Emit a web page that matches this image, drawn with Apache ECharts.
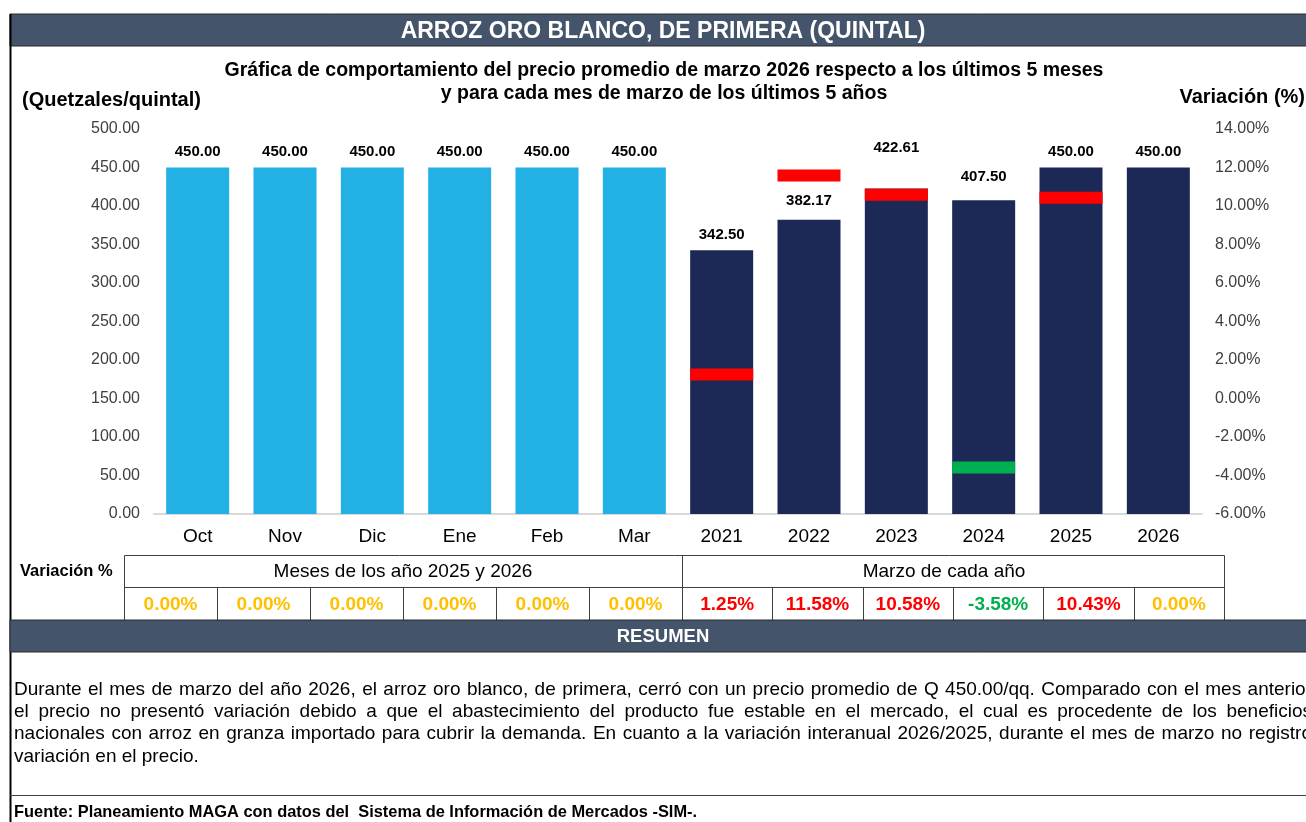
<!DOCTYPE html>
<html>
<head>
<meta charset="utf-8">
<script src="https://cdn.jsdelivr.net/npm/echarts@6/dist/echarts.min.js"></script>
<style>
html,body{margin:0;padding:0;background:#fff;}
#chart{width:1306px;height:822px;}
</style>
</head>
<body>
<div id="chart"></div>
<script>
// ---- data ----
const categories = ['Oct','Nov','Dic','Ene','Feb','Mar','2021','2022','2023','2024','2025','2026'];
const prices = [450.00,450.00,450.00,450.00,450.00,450.00,342.50,382.17,422.61,407.50,450.00,450.00];
const monthVariation = [0.00,0.00,0.00,0.00,0.00,0.00];
const yearVariation = [1.25,11.58,10.58,-3.58,10.43,0.00];
const leftAxisRange = {min:0, max:500, step:50};
const rightAxisRange = {min:-6, max:14, step:2};
const titleText = 'ARROZ ORO BLANCO, DE PRIMERA (QUINTAL)';
const subtitleLines = ['Gráfica de comportamiento del precio promedio de marzo 2026 respecto a los últimos 5 meses','y para cada mes de marzo de los últimos 5 años'];
const leftAxisName = '(Quetzales/quintal)';
const rightAxisName = 'Variación (%)';
const tableRowLabel = 'Variación %';
const groupMonths = 'Meses de los año 2025 y 2026';
const groupYears = 'Marzo de cada año';
const summaryTitle = 'RESUMEN';
const summaryLines = [
 'Durante el mes de marzo del año 2026, el arroz oro blanco, de primera, cerró con un precio promedio de Q 450.00/qq. Comparado con el mes anterior',
 'el precio no presentó variación debido a que el abastecimiento del producto fue estable en el mercado, el cual es procedente de los beneficios',
 'nacionales con arroz en granza importado para cubrir la demanda. En cuanto a la variación interanual 2026/2025, durante el mes de marzo no registró',
 'variación en el precio.'
];
const sourceText = 'Fuente: Planeamiento MAGA con datos del  Sistema de Información de Mercados -SIM-.';

// ---- styles ----
const FONT = '"Liberation Sans", Arial, sans-serif';
const LIGHT = '#23B0E4', NAVY = '#1C2855', RED = '#FF0000', GREEN = '#00B050', YELLOW = '#FFC000', BAR = '#44546A';
const nMonths = monthVariation.length;
const allVariation = monthVariation.concat(yearVariation);
const labelNudge = {7:-3, 8:-25, 9:-8};

function varColor(v){ return v > 0 ? RED : (v < 0 ? GREEN : YELLOW); }

const chart = echarts.init(document.getElementById('chart'), null, {renderer:'canvas'});

const G = [];
// title bar
G.push({type:'rect', shape:{x:10,y:14,width:1300,height:32}, style:{fill:BAR, stroke:'#2b2b2b', lineWidth:1}});
G.push({type:'text', x:663, y:31.5, style:{text:titleText, fill:'#fff', font:'bold 23px '+FONT, align:'center', verticalAlign:'middle'}});
// left border
G.push({type:'line', shape:{x1:10.5,y1:14,x2:10.5,y2:822}, style:{stroke:'#000', lineWidth:2}});
// subtitles
G.push({type:'text', x:664, y:71, style:{text:subtitleLines[0], fill:'#000', font:'bold 19.5px '+FONT, align:'center', verticalAlign:'middle'}});
G.push({type:'text', x:664, y:94, style:{text:subtitleLines[1], fill:'#000', font:'bold 19.5px '+FONT, align:'center', verticalAlign:'middle'}});
G.push({type:'text', x:22, y:100, style:{text:leftAxisName, fill:'#000', font:'bold 20px '+FONT, align:'left', verticalAlign:'middle'}});
G.push({type:'text', x:1305, y:97, style:{text:rightAxisName, fill:'#000', font:'bold 20px '+FONT, align:'right', verticalAlign:'middle'}});

// table
const tTop = 555, tMid = 587, tBot = 620, tLeft = 124, tDiv = 682, tRight = 1224;
const lineStyle = {stroke:'#404040', lineWidth:1};
G.push({type:'text', x:20, y:571, style:{text:tableRowLabel, fill:'#000', font:'bold 16.5px '+FONT, align:'left', verticalAlign:'middle'}});
G.push({type:'rect', shape:{x:tLeft+0.5,y:tTop+0.5,width:tRight-tLeft,height:tBot-tTop}, style:{fill:'none', stroke:'#404040', lineWidth:1}});
G.push({type:'line', shape:{x1:tLeft,y1:tMid+0.5,x2:tRight,y2:tMid+0.5}, style:lineStyle});
G.push({type:'line', shape:{x1:tDiv+0.5,y1:tTop,x2:tDiv+0.5,y2:tBot}, style:lineStyle});
G.push({type:'text', x:(tLeft+tDiv)/2, y:(tTop+tMid)/2+1, style:{text:groupMonths, fill:'#000', font:'19px '+FONT, align:'center', verticalAlign:'middle'}});
G.push({type:'text', x:944, y:(tTop+tMid)/2+1, style:{text:groupYears, fill:'#000', font:'19px '+FONT, align:'center', verticalAlign:'middle'}});
const mW = (tDiv - tLeft)/monthVariation.length, yW = (tRight - tDiv)/yearVariation.length;
monthVariation.forEach((v,i)=>{
  const x0 = tLeft + i*mW;
  if(i>0) G.push({type:'line', shape:{x1:Math.round(x0)+0.5,y1:tMid,x2:Math.round(x0)+0.5,y2:tBot}, style:lineStyle});
  G.push({type:'text', x:x0+mW/2, y:(tMid+tBot)/2+1, style:{text:v.toFixed(2)+'%', fill:varColor(v), font:'bold 19px '+FONT, align:'center', verticalAlign:'middle'}});
});
yearVariation.forEach((v,i)=>{
  const x0 = tDiv + i*yW;
  if(i>0) G.push({type:'line', shape:{x1:Math.round(x0)+0.5,y1:tMid,x2:Math.round(x0)+0.5,y2:tBot}, style:lineStyle});
  G.push({type:'text', x:x0+yW/2, y:(tMid+tBot)/2+1, style:{text:v.toFixed(2)+'%', fill:varColor(v), font:'bold 19px '+FONT, align:'center', verticalAlign:'middle'}});
});

// summary bar
G.push({type:'rect', shape:{x:10,y:620,width:1300,height:32}, style:{fill:BAR, stroke:'#2b2b2b', lineWidth:1}});
G.push({type:'text', x:663, y:636.5, style:{text:summaryTitle, fill:'#fff', font:'bold 18.5px '+FONT, align:'center', verticalAlign:'middle'}});

// summary paragraph (justified)
const pFont = '19px '+FONT;
const mctx = document.createElement('canvas').getContext('2d');
mctx.font = pFont;
const pLeft = 14, pRight = 1312, pTop = 689.5, pStep = 22.3;
summaryLines.forEach((line, li)=>{
  const y = pTop + li*pStep;
  if(li === summaryLines.length-1){
    G.push({type:'text', x:pLeft, y:y, style:{text:line, fill:'#000', font:pFont, align:'left', verticalAlign:'middle'}});
    return;
  }
  const words = line.split(' ');
  const widths = words.map(w=>mctx.measureText(w).width);
  const total = widths.reduce((a,b)=>a+b,0);
  const gap = (pRight - pLeft - total)/(words.length-1);
  let x = pLeft;
  words.forEach((w,wi)=>{
    G.push({type:'text', x:x, y:y, style:{text:w, fill:'#000', font:pFont, align:'left', verticalAlign:'middle'}});
    x += widths[wi] + gap;
  });
});

// source
G.push({type:'line', shape:{x1:10,y1:795.5,x2:1306,y2:795.5}, style:{stroke:'#404040', lineWidth:1}});
G.push({type:'text', x:14, y:812, style:{text:sourceText, fill:'#000', font:'bold 16.4px '+FONT, align:'left', verticalAlign:'middle'}});

const barData = prices.map((v,i)=>{
  const item = {value:v, itemStyle:{color: i < nMonths ? LIGHT : NAVY}};
  if(labelNudge[i] !== undefined) item.label = {offset:[0, labelNudge[i]]};
  return item;
});
const markerData = allVariation.map((v)=> v === 0 ? '-' : {value:v, itemStyle:{color: v > 0 ? RED : GREEN, opacity:1}});

const option = {
  animation:false,
  backgroundColor:'#fff',
  textStyle:{fontFamily:FONT},
  grid:{left:154, top:129, width:1048, height:385, containLabel:false},
  xAxis:{
    type:'category', data:categories,
    axisLine:{show:true, lineStyle:{color:'#D9D9D9', width:2}},
    axisTick:{show:false},
    axisLabel:{color:'#000', fontSize:19, margin:13, fontFamily:FONT},
    splitLine:{show:false}
  },
  yAxis:[
    {type:'value', min:leftAxisRange.min, max:leftAxisRange.max, interval:leftAxisRange.step,
     axisLine:{show:false}, axisTick:{show:false}, splitLine:{show:false},
     axisLabel:{color:'#404040', fontSize:16, margin:14, fontFamily:FONT, formatter:v=>v.toFixed(2)}},
    {type:'value', min:rightAxisRange.min, max:rightAxisRange.max, interval:rightAxisRange.step, position:'right',
     axisLine:{show:false}, axisTick:{show:false}, splitLine:{show:false},
     axisLabel:{color:'#404040', fontSize:16, margin:13, fontFamily:FONT, formatter:v=>v.toFixed(2)+'%'}}
  ],
  series:[
    {type:'bar', name:'Precio', yAxisIndex:0, data:barData, barWidth:63,
     label:{show:true, position:'top', distance:8, color:'#000', fontWeight:'bold', fontSize:15, fontFamily:FONT,
            formatter:p=>Number(p.value).toFixed(2)}},
    {type:'scatter', name:'Variación', yAxisIndex:1, data:markerData, symbol:'rect', symbolSize:[63,12], z:5,
     itemStyle:{opacity:1}, emphasis:{disabled:true}}
  ],
  graphic:{elements:G}
};
chart.setOption(option);
</script>
</body>
</html>
